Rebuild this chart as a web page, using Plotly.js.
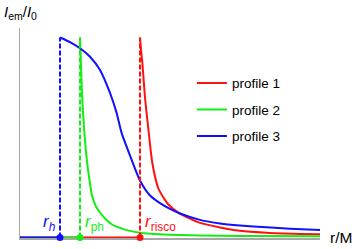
<!DOCTYPE html>
<html>
<head>
<meta charset="utf-8">
<script src="https://cdn.plot.ly/plotly-3.0.1.min.js"></script>
<style>html,body{margin:0;padding:0;background:#fff;}#chart{width:354px;height:249px;}</style>
</head>
<body>
<div id="chart"></div>
<script>
// Characteristic radii (r/M)
const rH = 2;
const rPh = 3;
const rIsco = 6;

// Profile 1 (red): emission starting at r_isco
const profile1R = [6, 6.06, 6.12, 6.25, 6.42, 6.62, 6.92, 7.17, 7.42, 7.92, 8.5, 9, 10, 10.67, 12.33, 14, 15];
const profile1I = [1.0, 0.93, 0.87, 0.70, 0.54, 0.37, 0.245, 0.2, 0.165, 0.124, 0.094, 0.073, 0.05, 0.038, 0.024, 0.018, 0.016];

// Profile 2 (green): emission starting at r_ph
const profile2R = [3, 3.05, 3.1, 3.2, 3.35, 3.5, 3.6, 3.8, 4, 4.3, 4.6, 5, 5.5, 6, 7, 8, 10, 12, 15];
const profile2I = [1.0, 0.86, 0.72, 0.55, 0.38, 0.27, 0.21, 0.155, 0.125, 0.09, 0.065, 0.048, 0.033, 0.024, 0.016, 0.012, 0.009, 0.007, 0.006];

// Profile 3 (blue): emission starting at r_h
const profile3R = [2, 2.5, 3, 3.5, 4, 4.5, 4.83, 5.08, 5.5, 6, 6.5, 7, 7.5, 8, 9, 10, 11, 12.33, 13.5, 15];
const profile3I = [1.0, 0.977, 0.946, 0.904, 0.838, 0.723, 0.623, 0.523, 0.41, 0.285, 0.21, 0.172, 0.143, 0.12, 0.088, 0.07, 0.06, 0.051, 0.044, 0.038];

const seriesNames = ['profile 1', 'profile 2', 'profile 3'];
const xMin = 0, xMax = 15;

const RED = '#ff1010', GREEN = '#12ee12', BLUE = '#1010ff';

function profileTrace(r0, rs, is, color, name, group) {
  return {
    x: [xMin, r0, null].concat(rs),
    y: [0, 0, null].concat(is),
    mode: 'lines', name: name, legendgroup: group,
    line: {color: color, width: 2, shape: 'spline', smoothing: 0.6},
    connectgaps: false, hoverinfo: 'skip'
  };
}
function dashTrace(r0, color) {
  return {x: [r0, r0], y: [0, 1], mode: 'lines', showlegend: false,
    line: {color: color, width: 2, dash: '5px,2px'}, hoverinfo: 'skip'};
}

const traces = [
  profileTrace(rIsco, profile1R, profile1I, RED, seriesNames[0], 'g1'),
  profileTrace(rPh, profile2R, profile2I, GREEN, seriesNames[1], 'g2'),
  profileTrace(rH, profile3R, profile3I, BLUE, seriesNames[2], 'g3'),
  dashTrace(rIsco, RED), dashTrace(rPh, GREEN), dashTrace(rH, BLUE),
  {x: [rH, rPh, rIsco], y: [0, 0, 0], mode: 'markers', showlegend: false, cliponaxis: false,
   marker: {color: [BLUE, GREEN, RED], size: 7}, hoverinfo: 'skip'}
];

const axisBase = {showline: true, linecolor: '#a8a8a8', linewidth: 1.5, showgrid: false,
  zeroline: false, showticklabels: false, ticks: '', layer: 'below traces', fixedrange: true};

const layout = {
  width: 354, height: 249,
  margin: {l: 20, r: 34, t: 28, b: 11},
  paper_bgcolor: '#fff', plot_bgcolor: '#fff',
  font: {family: 'Liberation Sans, Arial, sans-serif', color: '#000', size: 13.5},
  xaxis: Object.assign({range: [xMin, xMax]}, axisBase),
  yaxis: Object.assign({range: [-0.0025, 1.0475]}, axisBase),
  showlegend: true,
  legend: {x: 0.573, y: 0.811, xanchor: 'left', yanchor: 'top', bgcolor: 'rgba(0,0,0,0)',
    traceorder: 'grouped', tracegroupgap: 6, itemwidth: 30, font: {size: 13.5}},
  annotations: [
    {xref: 'paper', yref: 'paper', x: -0.06, y: 1.076, xanchor: 'left', yanchor: 'middle',
     text: '<i>I</i><sub>em</sub>/<i>I</i><sub>0</sub>', showarrow: false, font: {size: 15}},
    {xref: 'paper', yref: 'y', x: 1.027, y: 0, xanchor: 'left', yanchor: 'middle',
     text: 'r/M', showarrow: false, font: {size: 15.5}},
    {x: rH, y: 0, xanchor: 'right', yanchor: 'bottom', xshift: -2, yshift: 2,
     text: '<i>r</i><sub><i>h</i></sub>', showarrow: false, font: {size: 17, color: BLUE}},
    {x: rPh, y: 0, xanchor: 'left', yanchor: 'bottom', xshift: 3, yshift: 2,
     text: '<i>r</i><sub>ph</sub>', showarrow: false, font: {size: 17, color: GREEN}},
    {x: rIsco, y: 0, xanchor: 'left', yanchor: 'bottom', xshift: 3, yshift: 2,
     text: '<i>r</i><sub>risco</sub>', showarrow: false, font: {size: 17, color: RED}}
  ]
};

Plotly.newPlot('chart', traces, layout, {displayModeBar: false, staticPlot: true});
</script>
</body>
</html>
